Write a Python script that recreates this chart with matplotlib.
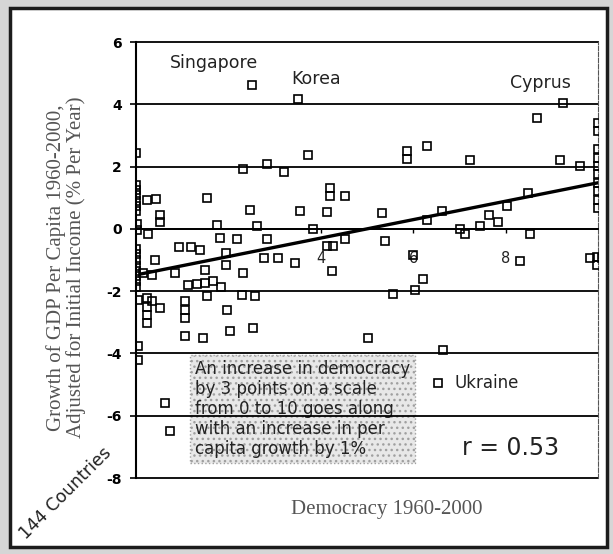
import numpy as np
import matplotlib.pyplot as plt
from matplotlib.patches import Rectangle

# democracy score (x) and adjusted growth (y)
democracy = [
    2.52, 3.51, 9.25, 8.67, 0.01, 5.86, 5.86, 6.29, 3.73, 7.23, 9.18, 9.61, 2.32, 2.83, 3.20,
    10, 10, 10, 10, 10, 10, 10, 10, 10, 10,
    0.0, 0.0, 0.0, 0.0, 0.0, 0.0,
    0.23, 0.43, 1.53, 0.52, 0.52, 2.47, 3.55, 4.13, 4.20, 4.20, 4.52, 5.32, 6.62, 6.30, 8.49, 8.02,
    7.63, 7.84, 7.45, 7.01, 7.12, 8.53,
    1.75, 2.61, 0.03, 0.03, 0.27, 3.84, 1.82, 2.18, 2.83, 4.52, 5.39,
    0.92, 1.20, 1.39, 1.94, 1.94, 4.13, 4.27, 2.76, 3.08, 3.44, 0.41, 6.00, 8.31,
    9.83, 9.97, 10.08, 9.97, 4.24,
    0.0, 0.0, 0.0, 0.0, 0.0, 0.0, 0.0, 0.0,
    0.15, 0.34, 0.84, 1.49, 2.32,
    1.13, 1.31, 1.49, 1.67, 1.85, 1.53, 2.29, 2.58,
    5.57, 6.04, 6.22,
    0.05, 0.23, 0.34, 0.23, 0.52, 0.23, 0.23,
    1.06, 1.06, 1.06, 1.96, 1.06, 1.46, 2.03, 2.54, 5.03, 6.65, 0.05, 0.05, 0.63, 0.74, 6.54,
]
growth = [
    4.61, 4.16, 4.05, 3.57, 2.45, 2.50, 2.23, 2.65, 2.37, 2.20, 2.20, 2.02, 1.91, 2.07, 1.84,
    3.41, 3.14, 2.55, 2.28, 2.02, 1.75, 1.48, 1.21, 0.94, 0.68,
    1.42, 1.25, 1.08, 0.91, 0.74, 0.58,
    0.94, 0.97, 1.00, 0.46, 0.22, 0.62, 0.57, 0.55, 1.32, 1.04, 1.07, 0.51, 0.58, 0.30, 1.16, 0.73,
    0.46, 0.23, 0.09, -0.02, -0.16, -0.16,
    0.12, 0.09, 0.15, -0.05, -0.18, -0.02, -0.30, -0.34, -0.31, -0.31, -0.40,
    -0.59, -0.58, -0.67, -0.78, -1.15, -0.56, -0.56, -0.93, -0.93, -1.09, -1.00, -0.85, -1.04,
    -0.93, -0.91, -0.93, -1.15, -1.36,
    -0.65, -0.82, -1.00, -1.18, -1.35, -1.52, -1.68, -1.86,
    -1.42, -1.47, -1.41, -1.31, -1.41,
    -1.79, -1.77, -1.74, -1.68, -1.88, -2.16, -2.11, -2.16,
    -2.10, -1.95, -1.60,
    -2.27, -2.22, -2.32, -2.52, -2.54, -2.76, -3.02,
    -2.32, -2.59, -2.86, -2.59, -3.45, -3.50, -3.29, -3.18, -3.50, -3.90, -3.77, -4.20,
    -5.60, -6.50, -4.95,
]

y_ticks = [-8, -6, -4, -2, 0, 2, 4, 6]
x_ticks = [4, 6, 8]

# fitted line
fit_x = [0.1, 10]
fit_intercept = -1.48
fit_slope = 0.296

note = ("An increase in democracy\nby 3 points on a scale\nfrom 0 to 10 goes along\n"
        "with an increase in per\ncapita growth by 1%")

fig = plt.figure(figsize=(6.13, 5.54), dpi=100, facecolor='#d6d6d6')
fig.patches.append(Rectangle((0.017, 0.012), 0.973, 0.973, transform=fig.transFigure,
                             facecolor='white', edgecolor='#1c1c1c', lw=2.5, zorder=-1))

ax = fig.add_axes([136/613, 1 - 478/554, (598 - 136)/613, (478 - 42)/554])
ax.set_xlim(0, 10)
ax.set_ylim(-8, 6)

for y in y_ticks:
    ax.axhline(y, color='black', lw=1.3, clip_on=False, zorder=1)

ax.spines['top'].set_visible(False)
ax.spines['bottom'].set_position(('data', 0))
ax.spines['bottom'].set_linewidth(1.3)
ax.spines['left'].set_linewidth(1.5)
ax.spines['right'].set_linestyle((0, (4, 1.5)))
ax.spines['right'].set_linewidth(0.8)
ax.spines['right'].set_color('#555555')

ax.set_yticks(y_ticks)
ax.set_yticklabels([str(v) for v in y_ticks], fontsize=10, fontweight='bold')
ax.tick_params(axis='y', direction='out', length=4, width=1.2, pad=6)
ax.set_xticks(x_ticks)
ax.set_xticklabels([str(v) for v in x_ticks], fontsize=10.5, color='#222222')
ax.tick_params(axis='x', direction='out', length=3, width=1, pad=13)

ax.plot(democracy, growth, ls='none', marker='s', ms=5.6, mfc='none', mec='black',
        mew=1.2, zorder=3)
fit_y = fit_intercept + fit_slope * np.array(fit_x)
ax.plot(fit_x, fit_y, color='black', lw=2.4, zorder=4)

txt = dict(color='#222222', fontsize=12.5, ha='center', va='center')
ax.text(1.68, 5.34, 'Singapore', **txt)
ax.text(3.89, 4.80, 'Korea', **txt)
ax.text(8.76, 4.69, 'Cyprus', **txt)
ax.text(6.9, -4.95, 'Ukraine', color='#222222', fontsize=12, ha='left', va='center')
ax.text(8.1, -7.04, 'r = 0.53', color='#222222', fontsize=17, ha='center', va='center')
ax.text(1.27, -5.79, note, color='#222222', fontsize=12, ha='left', va='center',
        linespacing=1.15, zorder=0.5,
        bbox=dict(boxstyle='square,pad=0.3', fc='#e8e8e8', ec='#a0a0a0', ls=':', hatch='...'))

fig.text(0.108, 0.517, 'Growth of GDP Per Capita 1960-2000,\nAdjusted for Initial Income (% Per Year)',
         rotation=90, ha='center', va='center', family='Liberation Serif', fontsize=15,
         color='#555555', linespacing=1.0)
fig.text(0.631, 0.081, 'Democracy 1960-2000', ha='center', va='center',
         family='Liberation Serif', fontsize=15, color='#555555')
fig.text(66/613, 1 - 493/554, '144 Countries', rotation=45, ha='center', va='center',
         fontsize=12.5, color='#222222')

fig.savefig('out.png', dpi=100)
